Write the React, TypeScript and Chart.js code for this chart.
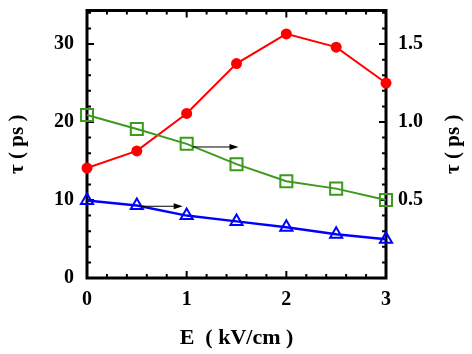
import React, { useEffect, useRef } from 'react';
import { Chart, registerables } from 'chart.js';

Chart.register(...registerables);

// ---- data ----
const fieldE = [0, 0.5, 1, 1.5, 2, 2.5, 3];
const tauRed = [14.1, 16.3, 21.1, 27.5, 31.3, 29.6, 25.0]; // left axis (ps)
const tauGreen = [1.045, 0.955, 0.86, 0.73, 0.62, 0.573, 0.5]; // right axis (ps)
const tauBlue = [0.497, 0.465, 0.4, 0.363, 0.325, 0.28, 0.248]; // right axis (ps)

const xMin = 0;
const xMax = 3;
const xMajorStep = 1;
const xMinorStep = 0.2;
const leftMax = 34.3;
const leftMajorStep = 10;
const leftMinorStep = 2;
const rightMax = leftMax / 20;
const rightMajorStep = 0.5;
const rightMinorStep = 0.1;

// arrows (right-axis units)
const arrowStartX = [1.06, 0.53];
const arrowEndX = [1.52, 0.96];
const arrowY = [0.84, 0.46];

const xTitle = 'E  ( kV/cm )';
const yTitle = 'τ ( ps )';

const FONT = '"Liberation Serif", "Times New Roman", serif';

const isMultiple = (v: number, step: number) =>
  Math.abs(v / step - Math.round(v / step)) < 1e-6;

const framePlugin = {
  id: 'frameTicks',
  beforeDatasetsDraw(chart: any) {
    const { ctx, chartArea, scales } = chart;
    const { left, right, top, bottom } = chartArea;
    const major = 7;
    const minor = 4;
    ctx.save();
    ctx.strokeStyle = '#000';
    ctx.lineWidth = 2;
    ctx.beginPath();
    const nx = Math.round((xMax - xMin) / xMinorStep);
    for (let i = 0; i <= nx; i++) {
      const v = xMin + i * xMinorStep;
      const px = scales.x.getPixelForValue(v);
      const len = isMultiple(v, xMajorStep) ? major : minor;
      ctx.moveTo(px, bottom);
      ctx.lineTo(px, bottom - len);
      ctx.moveTo(px, top);
      ctx.lineTo(px, top + len);
    }
    const nl = Math.floor(leftMax / leftMinorStep + 1e-9);
    for (let i = 0; i <= nl; i++) {
      const v = i * leftMinorStep;
      const py = scales.y.getPixelForValue(v);
      const len = isMultiple(v, leftMajorStep) ? major : minor;
      ctx.moveTo(left, py);
      ctx.lineTo(left + len, py);
    }
    const nr = Math.floor(rightMax / rightMinorStep + 1e-9);
    for (let i = 0; i <= nr; i++) {
      const v = i * rightMinorStep;
      const py = scales.y2.getPixelForValue(v);
      const len = isMultiple(v, rightMajorStep) ? major : minor;
      ctx.moveTo(right, py);
      ctx.lineTo(right - len, py);
    }
    ctx.stroke();
    ctx.lineWidth = 3;
    ctx.strokeRect(left, top, right - left, bottom - top);
    ctx.restore();
  },
  afterDatasetsDraw(chart: any) {
    const { ctx, scales } = chart;
    ctx.save();
    ctx.strokeStyle = '#000';
    ctx.fillStyle = '#000';
    ctx.lineWidth = 1;
    for (let i = 0; i < arrowY.length; i++) {
      const x0 = scales.x.getPixelForValue(arrowStartX[i]);
      const x1 = scales.x.getPixelForValue(arrowEndX[i]);
      const y = scales.y2.getPixelForValue(arrowY[i]);
      ctx.beginPath();
      ctx.moveTo(x0, y);
      ctx.lineTo(x1 - 6, y);
      ctx.stroke();
      ctx.beginPath();
      ctx.moveTo(x1, y);
      ctx.lineTo(x1 - 9, y - 3);
      ctx.lineTo(x1 - 9, y + 3);
      ctx.closePath();
      ctx.fill();
    }
    ctx.restore();
  },
  afterDraw(chart: any) {
    const { ctx, chartArea } = chart;
    ctx.save();
    ctx.fillStyle = '#000';
    ctx.font = `bold 21px ${FONT}`;
    ctx.textAlign = 'center';
    ctx.textBaseline = 'middle';
    ctx.translate(454, (chartArea.top + chartArea.bottom) / 2);
    ctx.rotate(-Math.PI / 2);
    ctx.fillText(yTitle, 0, 0);
    ctx.restore();
  },
};

export default function App() {
  const ref = useRef<HTMLCanvasElement>(null);

  useEffect(() => {
    if (!ref.current) return;
    const tickFont = { family: FONT, weight: 'bold' as const, size: 20 };
    const titleFont = { family: FONT, weight: 'bold' as const, size: 22 };
    const yTitleFont = { family: FONT, weight: 'bold' as const, size: 21 };
    const noPad = (s: any) => {
      s.paddingTop = 0;
      s.paddingBottom = 0;
    };
    const chart = new Chart(ref.current, {
      type: 'line',
      data: {
        datasets: [
          {
            data: fieldE.map((x, i) => ({ x, y: tauBlue[i] })),
            yAxisID: 'y2',
            borderColor: '#0000ff',
            backgroundColor: '#0000ff',
            borderWidth: 2.5,
            pointStyle: 'triangle',
            pointRadius: 7,
            pointBorderWidth: 2,
            pointBackgroundColor: 'rgba(0,0,0,0)',
            pointBorderColor: '#0000ff',
            tension: 0,
            clip: false,
          },
          {
            data: fieldE.map((x, i) => ({ x, y: tauGreen[i] })),
            yAxisID: 'y2',
            borderColor: '#3c9a1e',
            backgroundColor: '#3c9a1e',
            borderWidth: 2,
            pointStyle: 'rect',
            pointRadius: 8.5,
            pointBorderWidth: 2,
            pointBackgroundColor: 'rgba(0,0,0,0)',
            pointBorderColor: '#3c9a1e',
            tension: 0,
            clip: false,
          },
          {
            data: fieldE.map((x, i) => ({ x, y: tauRed[i] })),
            yAxisID: 'y',
            borderColor: '#ff0000',
            backgroundColor: '#ff0000',
            borderWidth: 2,
            pointStyle: 'circle',
            pointRadius: 5.5,
            pointBorderWidth: 0,
            pointBackgroundColor: '#ff0000',
            tension: 0,
            clip: false,
          },
        ],
      },
      options: {
        responsive: false,
        animation: false,
        devicePixelRatio: 1,
        layout: { padding: { top: 9, left: 0, right: 0, bottom: 0 } },
        plugins: { legend: { display: false }, tooltip: { enabled: false } },
        scales: {
          x: {
            type: 'linear',
            position: 'bottom',
            min: xMin,
            max: xMax,
            grid: { display: false, drawTicks: false },
            border: { display: false },
            ticks: { stepSize: xMajorStep, color: '#000', font: tickFont, padding: 10 },
            title: {
              display: true,
              text: xTitle,
              color: '#000',
              font: titleFont,
              padding: { top: 0, bottom: 2 },
            },
            afterFit: (s: any) => {
              s.height = 76;
              s.paddingLeft = 0;
              s.paddingRight = 0;
            },
          },
          y: {
            type: 'linear',
            position: 'left',
            min: 0,
            max: leftMax,
            grid: { display: false, drawTicks: false },
            border: { display: false },
            ticks: {
              stepSize: leftMajorStep,
              includeBounds: false,
              color: '#000',
              font: tickFont,
              padding: 13,
            },
            title: {
              display: true,
              text: yTitle,
              color: '#000',
              font: yTitleFont,
              padding: { top: 5, bottom: 0 },
            },
            afterFit: (s: any) => {
              s.width = 87;
              noPad(s);
            },
          },
          y2: {
            type: 'linear',
            position: 'right',
            min: 0,
            max: rightMax,
            grid: { display: false, drawTicks: false },
            border: { display: false },
            ticks: {
              stepSize: rightMajorStep,
              includeBounds: false,
              color: '#000',
              font: tickFont,
              padding: 12,
              callback: (v: any) => (Number(v) === 0 ? '' : Number(v).toFixed(1)),
            },
            afterFit: (s: any) => {
              s.width = 86;
              noPad(s);
            },
          },
        },
      },
      plugins: [framePlugin],
    });
    return () => chart.destroy();
  }, []);

  return (
    <div style={{ position: 'absolute', left: 0, top: 0, width: 472, height: 354 }}>
      <canvas ref={ref} width={472} height={354} style={{ display: 'block' }} />
    </div>
  );
}
